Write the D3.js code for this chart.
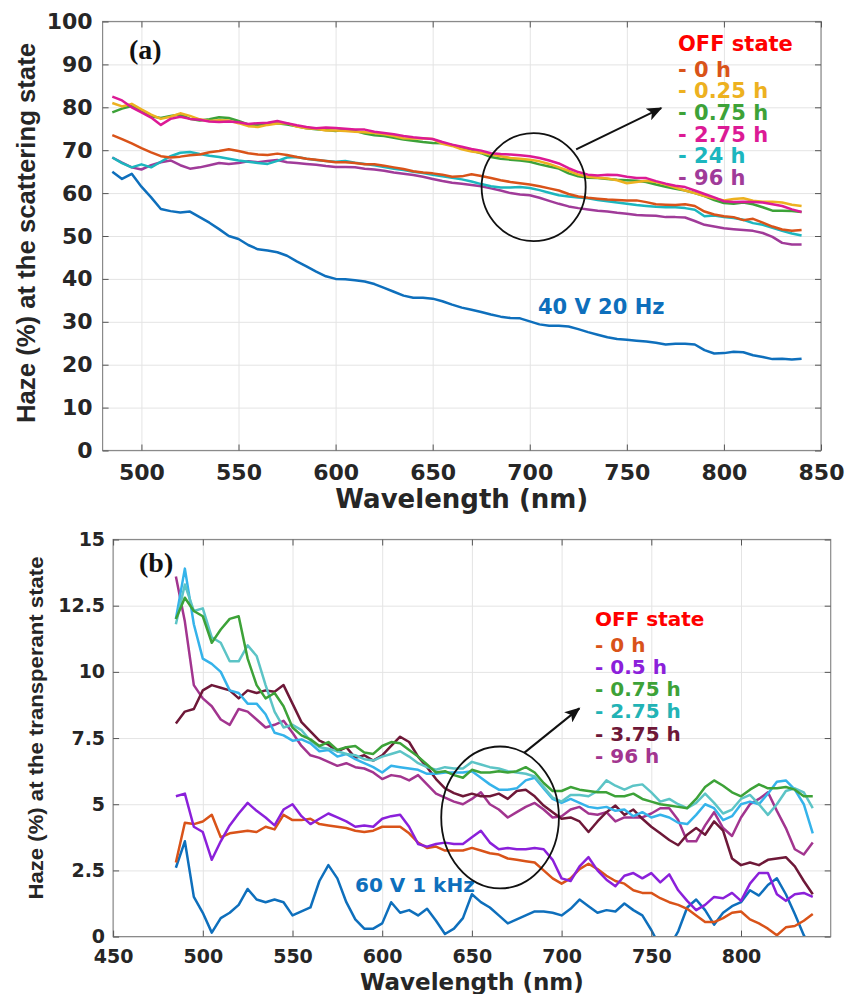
<!DOCTYPE html>
<html><head><meta charset="utf-8">
<script src="https://cdn.jsdelivr.net/npm/d3@7"></script>
<style>body{margin:0;background:#fff}svg{display:block}</style>
</head><body>
<svg id="chart" width="845" height="994"></svg>
<script>
// ---------------- DATA ----------------
const wavelength = [485,490,495,500,505,510,515,520,525,530,535,540,545,550,555,560,565,570,575,580,585,590,595,600,605,610,615,620,625,630,635,640,645,650,655,660,665,670,675,680,685,690,695,700,705,710,715,720,725,730,735,740,745,750,755,760,765,770,775,780,785,790,795,800,805,810,815,820,825,830,835,840];

// Panel (a): haze at the scattering state
const a_0h   = [73.5,72.6,71.6,70.5,69.5,68.6,68.3,68.5,68.8,69.0,69.5,69.8,70.2,69.8,69.3,69.0,68.9,69.2,68.9,68.4,68.0,67.8,67.5,67.2,67.2,67.0,66.7,66.7,66.4,66.0,65.6,65.1,64.8,64.6,64.3,63.8,63.9,
                64.4,64.0,63.5,63.0,62.6,62.3,62.0,61.6,61.1,60.6,59.8,59.2,58.9,58.7,58.5,58.4,58.3,58.3,57.9,57.4,57.3,57.2,57.4,57.0,55.7,55.0,54.6,54.4,53.7,54.0,53.1,52.2,51.5,51.2,51.4];
const a_025h = [81.0,80.2,80.8,79.5,78.3,77.3,77.8,78.6,78.0,77.2,76.8,77.0,76.9,76.3,75.6,75.4,75.9,76.2,76.3,75.5,75.1,75.0,74.6,74.6,74.5,74.3,74.2,74.0,73.7,73.3,72.8,72.7,72.8,72.6,71.5,71.0,70.2,
                69.7,69.4,69.0,68.6,68.2,68.0,67.8,67.4,66.8,66.0,65.2,64.3,63.8,63.6,63.4,63.0,62.3,62.6,62.9,62.6,62.0,61.3,60.6,60.0,59.3,58.8,58.3,58.6,58.8,58.2,58.0,58.0,57.8,57.3,57.0];
const a_075h = [78.8,79.7,80.3,79.2,77.9,77.5,78.0,78.3,77.3,76.9,77.2,77.7,77.5,76.8,76.0,75.8,76.1,76.3,76.0,75.6,75.1,74.9,74.7,74.5,74.8,74.5,73.9,73.5,73.3,72.9,72.5,72.2,71.9,71.7,71.6,71.2,70.6,
                69.9,69.3,68.4,68.0,67.8,67.6,67.3,66.7,66.2,65.7,64.6,63.9,63.6,63.5,63.3,63.1,63.0,62.9,62.6,62.0,61.5,61.0,60.6,60.0,59.3,58.4,57.7,57.5,57.8,57.4,56.7,55.9,55.9,55.8,55.6];
const a_275h = [82.5,81.6,80.0,78.8,77.6,75.9,77.3,77.8,77.3,77.1,76.7,76.6,76.7,76.5,76.1,76.3,76.4,76.8,76.3,75.8,75.4,75.1,75.3,75.2,75.0,74.8,74.8,74.3,74.0,73.7,73.3,73.0,72.8,72.6,71.9,71.3,70.8,
                70.3,69.9,69.3,69.1,69.0,68.8,68.6,68.2,67.6,66.9,65.8,64.9,64.3,64.1,64.3,64.2,63.8,63.5,63.5,62.8,62.2,61.7,61.4,60.6,59.8,59.0,58.1,57.9,58.0,57.9,57.8,57.4,57.0,56.2,55.6];
const a_24h  = [68.3,67.0,66.0,66.7,66.0,67.3,68.6,69.4,69.6,69.1,68.7,68.4,68.0,67.6,67.3,67.0,66.8,67.5,68.3,68.4,68.0,67.7,67.5,67.3,67.5,67.1,66.8,66.5,66.1,65.7,65.4,65.0,64.7,64.3,63.9,63.6,63.2,
                62.7,62.1,61.6,61.3,61.3,61.4,61.2,60.7,60.1,59.5,59.2,59.0,58.8,58.4,58.1,57.8,57.5,57.2,57.0,56.8,56.7,56.7,56.5,56.1,54.6,54.8,54.4,54.2,53.8,53.0,52.6,51.9,51.2,50.6,50.1];
const a_96h  = [68.3,67.1,66.0,65.5,66.5,67.2,67.6,66.5,65.7,66.0,66.5,67.0,66.8,67.0,67.4,67.2,67.5,67.7,67.2,67.0,66.8,66.6,66.3,66.1,66.1,66.0,65.7,65.5,65.2,64.8,64.5,64.2,63.8,63.3,62.8,62.4,62.2,
                61.9,61.6,61.1,60.6,60.0,59.7,59.5,58.9,58.2,57.5,56.9,56.5,56.2,55.9,55.7,55.4,55.2,54.9,54.8,54.7,54.4,54.4,54.3,53.5,52.6,52.2,51.8,51.6,51.4,51.2,50.7,49.8,48.4,48.0,48.0];
const a_40V  = [65.0,63.3,64.5,61.5,59.0,56.3,55.8,55.5,55.7,54.4,53.1,51.6,50.0,49.3,47.9,46.9,46.6,46.2,45.4,44.1,42.9,41.7,40.6,40.0,39.9,39.7,39.4,38.8,37.9,37.0,36.1,35.6,35.6,35.4,34.8,34.0,33.3,
                32.8,32.3,31.7,31.2,30.9,30.8,30.1,29.4,29.1,29.1,28.9,28.3,27.6,27.0,26.4,26.0,25.8,25.6,25.4,25.1,24.7,24.9,24.9,24.7,23.4,22.6,22.7,23.0,22.9,22.2,21.8,21.3,21.4,21.2,21.4];

// Panel (b): haze at the transparent state
const b_0h   = [2.8,4.3,4.25,4.35,4.6,3.75,3.9,3.95,4.0,3.95,4.15,4.05,4.6,4.4,4.4,4.45,4.25,4.2,4.15,4.1,4.0,3.95,4.0,4.15,4.15,4.15,3.9,3.55,3.35,3.4,3.25,3.25,3.25,
                3.35,3.25,3.15,3.1,2.95,2.9,2.85,2.8,2.5,2.2,2.0,2.2,2.55,2.75,2.55,2.3,2.1,2.0,1.75,1.65,1.65,1.45,1.3,1.2,1.05,0.8,0.55,0.55,0.7,0.9,0.95,0.65,0.5,0.3,0.05,0.35,0.4,0.6,0.85];
const b_05h  = [5.3,5.4,4.15,3.95,2.9,3.6,4.2,4.65,5.05,4.75,4.5,4.2,4.8,5.0,4.55,4.25,4.45,4.65,4.5,4.35,4.15,4.2,4.15,4.45,4.55,4.6,4.15,3.5,3.4,3.5,3.55,3.5,3.5,
                3.75,4.0,3.55,3.3,3.35,3.3,3.3,3.35,3.3,2.9,2.2,2.1,2.65,3.0,2.5,2.15,1.9,2.3,2.4,2.2,2.4,2.05,2.35,1.75,1.35,1.0,1.2,1.5,1.45,1.65,1.35,2.0,2.4,2.4,1.6,1.35,1.6,1.65,1.5];
const b_075h = [12.0,12.8,12.3,12.1,11.1,11.6,12.0,12.1,10.5,9.5,9.0,9.2,8.7,7.9,7.6,7.45,7.2,7.35,7.05,7.15,7.2,6.95,6.9,7.2,7.35,7.3,7.05,6.8,6.5,6.2,6.25,6.1,6.0,
                6.3,6.2,6.2,6.25,6.2,6.25,6.4,6.2,5.8,5.5,5.5,5.65,5.55,5.5,5.45,5.45,5.3,5.3,5.4,5.2,5.1,5.0,4.95,4.9,4.85,5.2,5.65,5.9,5.7,5.45,5.3,5.55,5.75,5.6,5.6,5.65,5.55,5.3,5.3];
const b_275h = [11.8,13.3,12.3,12.4,11.3,11.1,10.4,10.4,11.0,10.6,9.5,8.5,7.9,8.0,7.8,7.4,7.15,7.1,7.0,6.9,6.85,6.7,6.65,6.8,6.9,7.0,6.8,6.55,6.4,6.3,6.4,6.35,6.35,
                6.6,6.5,6.4,6.35,6.25,6.2,6.15,6.05,5.65,5.25,5.1,5.35,5.35,5.3,5.5,5.9,5.7,5.55,5.7,5.75,5.45,5.1,5.2,5.0,4.85,5.05,5.4,5.05,4.65,4.8,5.2,5.35,5.0,4.6,5.0,5.5,5.6,5.45,4.85];
const b_sky  = [12.0,13.9,11.8,10.5,10.3,10.0,9.3,9.2,8.8,8.8,8.4,7.7,7.6,7.4,7.45,7.3,7.0,7.05,6.8,6.9,6.7,6.55,6.4,6.2,6.45,6.4,6.35,6.3,6.15,6.15,6.2,6.2,6.2,
                6.25,6.0,5.75,5.55,5.55,5.6,5.9,6.0,5.6,5.2,5.05,5.2,5.05,4.9,4.85,4.9,4.75,4.8,4.55,4.7,4.5,4.6,4.5,4.3,4.25,4.6,5.0,4.85,4.4,4.55,5.0,5.1,5.0,5.4,5.85,5.9,5.55,5.0,3.9];
const b_375h = [8.05,8.5,8.6,9.3,9.5,9.4,9.3,9.0,9.3,9.2,9.3,9.25,9.5,8.8,8.1,7.75,7.4,7.25,7.0,7.15,6.75,6.85,6.65,6.85,7.2,7.55,7.35,6.8,6.4,5.95,5.6,5.42,5.3,
                5.4,5.3,5.3,5.4,5.2,5.5,5.55,5.3,4.95,4.7,4.45,4.5,4.35,3.95,4.35,4.7,4.95,4.6,4.8,4.45,4.15,3.9,3.65,3.45,3.85,4.1,3.85,4.35,4.0,2.95,2.7,2.8,2.7,2.9,2.95,3.0,2.65,2.1,1.6];
const b_96h  = [13.6,11.9,9.5,9.0,8.7,8.2,8.0,8.6,8.5,8.2,7.9,8.0,8.15,7.7,7.2,6.85,6.75,6.6,6.45,6.55,6.4,6.35,6.2,5.95,6.1,6.05,5.9,6.1,5.75,5.4,5.25,5.1,5.0,
                5.2,5.45,5.0,4.8,4.5,4.7,4.9,5.05,4.8,4.5,4.55,4.8,4.9,4.65,4.6,4.7,4.35,4.5,4.5,4.5,4.65,4.85,4.85,4.4,3.6,3.6,4.2,4.7,4.1,3.8,4.5,5.0,5.2,5.45,4.75,4.1,3.3,3.1,3.55];
const b_60V  = [2.6,3.6,1.5,0.9,0.15,0.7,0.9,1.2,1.8,1.4,1.3,1.4,1.3,0.8,0.95,1.1,2.1,2.7,2.2,1.3,0.65,0.3,0.3,0.5,1.3,0.9,1.0,0.8,1.05,0.6,0.1,0.3,0.7,
                1.6,1.3,1.1,0.8,0.5,0.65,0.8,0.95,0.95,0.9,0.8,1.05,1.4,1.15,0.9,1.0,0.95,1.25,1.0,0.8,0.25,-0.4,-0.4,0.2,1.1,1.4,1.0,0.45,0.9,1.15,1.3,1.75,1.55,1.95,2.2,1.6,0.85,0.05,-0.5];

const xTicksA = [500,550,600,650,700,750,800,850];
const yTicksA = [0,10,20,30,40,50,60,70,80,90,100];
const xTicksB = [450,500,550,600,650,700,750,800];
const yTicksB = [0,2.5,5,7.5,10,12.5,15];

const legendA = ["- 0 h","- 0.25 h","- 0.75 h","- 2.75 h","- 24 h","- 96 h"];
const legendB = ["- 0 h","- 0.5 h","- 0.75 h","- 2.75 h","- 3.75 h","- 96 h"];

// ---------------- STYLE ----------------
const C = {orange:"#D95319", yellow:"#EDB120", green:"#3DA238", magenta:"#DC1A95", cyan:"#1CB6BE",
           purple:"#A03B99", blue:"#0E6FBC", violet:"#8B20DA", teal:"#5CC4C6", sky:"#35B3EA",
           maroon:"#6E1838", purpleB:"#A2358F"};
const seriesA = [
  {v:a_40V, c:C.blue}, {v:a_96h, c:C.purple}, {v:a_24h, c:C.cyan}, {v:a_0h, c:C.orange},
  {v:a_075h, c:C.green}, {v:a_025h, c:C.yellow}, {v:a_275h, c:C.magenta}];
const legendColorsA = [C.orange, C.yellow, C.green, C.magenta, C.cyan, C.purple];
const seriesB = [
  {v:b_60V, c:C.blue}, {v:b_0h, c:C.orange}, {v:b_05h, c:C.violet}, {v:b_96h, c:C.purpleB},
  {v:b_375h, c:C.maroon}, {v:b_sky, c:C.sky}, {v:b_275h, c:C.teal}, {v:b_075h, c:C.green}];
const legendColorsB = [C.orange, C.violet, C.green, "#22B3B5", C.maroon, C.purpleB];

const svg = d3.select("#chart");
svg.append("rect").attr("width",845).attr("height",994).attr("fill","#fff");
const defs = svg.append("defs");
defs.append("marker").attr("id","arrow").attr("viewBox","0 0 12 10").attr("refX",11).attr("refY",5)
  .attr("markerUnits","userSpaceOnUse").attr("markerWidth",16).attr("markerHeight",13).attr("orient","auto")
  .append("path").attr("d","M0,0 L12,5 L0,10 L3,5 z").attr("fill","#111");

const TICKFONT = "'DejaVu Sans', sans-serif";

function panel(cfg) {
  const {x, y, xt, yt, ytFmt, fs, xPad, yPad, id} = cfg;
  const [x0, x1] = x.range(); const [y0, y1] = y.range(); // y0 bottom, y1 top
  const g = svg.append("g");
  g.append("clipPath").attr("id", id).append("rect")
    .attr("x", x0).attr("y", y1).attr("width", x1 - x0).attr("height", y0 - y1);

  // grid
  const gx = g.append("g").attr("transform",`translate(0,${y0})`)
    .call(d3.axisBottom(x).tickValues(xt).tickSize(-(y0-y1)).tickFormat(""));
  const gy = g.append("g").attr("transform",`translate(${x0},0)`)
    .call(d3.axisLeft(y).tickValues(yt).tickSize(-(x1-x0)).tickFormat(""));
  [gx, gy].forEach(s => { s.select(".domain").remove(); s.selectAll("line").attr("stroke","#e4e4e4").attr("stroke-width",1); });

  // lines
  const line = d3.line().x((d,i)=>x(wavelength[i])).y(d=>y(d));
  const lg = g.append("g").attr("clip-path",`url(#${id})`);
  cfg.series.forEach(s => {
    lg.append("path").datum(s.v).attr("d", line).attr("fill","none")
      .attr("stroke", s.c).attr("stroke-width", 2.5).attr("stroke-linejoin","round");
  });

  // frame
  g.append("rect").attr("x",x0).attr("y",y1).attr("width",x1-x0).attr("height",y0-y1)
    .attr("fill","none").attr("stroke","#8a8a8a").attr("stroke-width",1.2);

  // axes with inward ticks
  const ab = g.append("g").attr("transform",`translate(0,${y0})`)
    .call(d3.axisBottom(x).tickValues(xt).tickSizeInner(-6).tickSizeOuter(0).tickPadding(xPad).tickFormat(d3.format("d")));
  const al = g.append("g").attr("transform",`translate(${x0},0)`)
    .call(d3.axisLeft(y).tickValues(yt).tickSizeInner(-6).tickSizeOuter(0).tickPadding(yPad).tickFormat(ytFmt));
  const at = g.append("g").attr("transform",`translate(0,${y1})`)
    .call(d3.axisTop(x).tickValues(xt).tickSizeInner(-6).tickSizeOuter(0).tickFormat(""));
  const ar = g.append("g").attr("transform",`translate(${x1},0)`)
    .call(d3.axisRight(y).tickValues(yt).tickSizeInner(-6).tickSizeOuter(0).tickFormat(""));
  [ab, al, at, ar].forEach(s => {
    s.select(".domain").remove();
    s.selectAll("line").attr("stroke","#555").attr("stroke-width",1);
    s.selectAll("text").attr("font-family",TICKFONT).attr("font-weight","bold")
      .attr("font-size",fs).attr("fill","#262626");
  });
  return g;
}

// ---------------- PANEL A ----------------
const xA = d3.scaleLinear().domain([480,850]).range([102.6,821]);
const yA = d3.scaleLinear().domain([0,100]).range([450.5,21.5]);
panel({x:xA, y:yA, xt:xTicksA, yt:yTicksA, ytFmt:d3.format("d"), fs:22, xPad:14, yPad:10, id:"clipA", series:seriesA});

// ---------------- PANEL B ----------------
const xB = d3.scaleLinear().domain([450,850]).range([113.1,830.7]);
const yB = d3.scaleLinear().domain([0,15]).range([936.6,539.5]);
panel({x:xB, y:yB, xt:xTicksB, yt:yTicksB, ytFmt:d=>String(d), fs:19, xPad:13, yPad:8, id:"clipB", series:seriesB});

// ---------------- TEXTS ----------------
const bold = (sel) => sel.attr("font-weight","bold");
// x labels
bold(svg.append("text").attr("x",(xA.range()[0]+xA.range()[1])/2).attr("y",508).attr("text-anchor","middle")
  .attr("font-family",TICKFONT).attr("font-size",26).attr("fill","#262626").text("Wavelength (nm)"));
bold(svg.append("text").attr("x",(xB.range()[0]+xB.range()[1])/2).attr("y",990).attr("text-anchor","middle")
  .attr("font-family",TICKFONT).attr("font-size",23).attr("fill","#262626").text("Wavelength (nm)"));
// y labels
bold(svg.append("text").attr("transform","translate(35,233) rotate(-90)").attr("text-anchor","middle")
  .attr("font-family","'Liberation Sans', Arial, sans-serif").attr("font-size",26).attr("fill","#262626")
  .attr("textLength",380).attr("lengthAdjust","spacingAndGlyphs").text("Haze (%) at the scattering state"));
bold(svg.append("text").attr("transform","translate(43,728) rotate(-90)").attr("text-anchor","middle")
  .attr("font-family","'Liberation Sans', Arial, sans-serif").attr("font-size",21).attr("fill","#262626")
  .attr("textLength",343).attr("lengthAdjust","spacingAndGlyphs").text("Haze (%) at the transperant state"));
// panel letters
bold(svg.append("text").attr("x",129).attr("y",59).attr("font-family","'Liberation Serif', 'Times New Roman', serif")
  .attr("font-size",28).attr("fill","#111").text("(a)"));
bold(svg.append("text").attr("x",139).attr("y",572).attr("font-family","'Liberation Serif', 'Times New Roman', serif")
  .attr("font-size",28).attr("fill","#111").text("(b)"));

// legends
function legend(x0, yTitle, step, fs, labels, colors) {
  bold(svg.append("text").attr("x",x0).attr("y",yTitle).attr("font-family",TICKFONT).attr("font-size",fs)
    .attr("fill","#FF0000").text("OFF state"));
  labels.forEach((t,i) => bold(svg.append("text").attr("x",x0).attr("y",yTitle + 25.5 + i*step)
    .attr("font-family",TICKFONT).attr("font-size",fs).attr("fill",colors[i]).text(t)));
}
legend(678, 51, 21.7, 21, legendA, legendColorsA);
legend(595, 626, 22.3, 20, legendB, legendColorsB);

// condition labels
bold(svg.append("text").attr("x",538).attr("y",314).attr("font-family",TICKFONT).attr("font-size",21)
  .attr("fill",C.blue).text("40 V 20 Hz"));
bold(svg.append("text").attr("x",355).attr("y",892).attr("font-family",TICKFONT).attr("font-size",20)
  .attr("fill",C.blue).text("60 V 1 kHz"));

// annotation ellipses and arrows (data coordinates)
function annot(x, y, c, r, from, to) {
  svg.append("ellipse").attr("cx",x(c[0])).attr("cy",y(c[1]))
    .attr("rx",Math.abs(x(c[0]+r[0])-x(c[0]))).attr("ry",Math.abs(y(c[1]+r[1])-y(c[1])))
    .attr("fill","none").attr("stroke","#111").attr("stroke-width",1.8);
  svg.append("line").attr("x1",x(from[0])).attr("y1",y(from[1])).attr("x2",x(to[0])).attr("y2",y(to[1]))
    .attr("stroke","#111").attr("stroke-width",2).attr("marker-end","url(#arrow)");
}
annot(xA, yA, [702,61.4], [26.8,12.6], [723.9,70.2], [767.7,79.8]);
annot(xB, yB, [665.7,4.5], [32.8,2.68], [679.3,6.95], [709.9,8.62]);
</script>
</body></html>
